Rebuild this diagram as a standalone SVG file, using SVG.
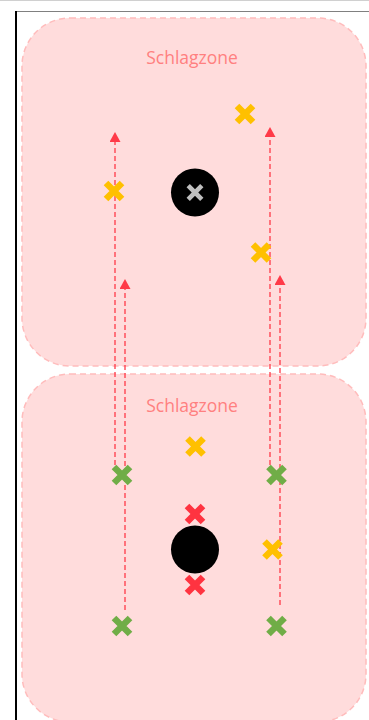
<svg xmlns="http://www.w3.org/2000/svg" width="369" height="720" viewBox="0 0 369 720">
<defs>
<style>
.zone{fill:#ffdcdc;stroke:#ffbcbc;stroke-width:1.5;stroke-dasharray:6 4}
.lbl{font-family:"Open Sans","Noto Sans",sans-serif;font-size:17.5px;fill:#ff8080;text-anchor:middle}
.ball{fill:#000}
.x{stroke-width:6.5;stroke-linecap:butt;fill:none}
.y{stroke:#ffc000}.g{stroke:#70ad47}.r{stroke:#ff3340}.w{stroke:#c0c0c0;stroke-width:5.5}
.run{stroke:#ff3a48;stroke-width:1.3;stroke-dasharray:5 3;fill:none}
</style>
<marker id="ah" viewBox="0 0 10 11" refX="0" refY="5.5" markerWidth="10" markerHeight="11" markerUnits="userSpaceOnUse" orient="auto">
<path d="M0,0 L10,5.5 L0,11 Z" fill="#ff3a48"/>
</marker>
<g id="xs"><path d="M-8,-8 L8,8 M-8,8 L8,-8"/></g>
</defs>
<g id="frame">
<line x1="0" y1="0.5" x2="369" y2="0.5" stroke="#d0d0d0" stroke-width="1"/>
<line x1="15" y1="11.5" x2="369" y2="11.5" stroke="#808080" stroke-width="1"/>
<line x1="16" y1="11" x2="16" y2="720" stroke="#000" stroke-width="2"/>
</g>
<g id="zone1">
<rect class="zone" x="22" y="18" width="344" height="348" rx="48" ry="48"/>
<text class="lbl" x="192" y="64">Schlagzone</text>
</g>
<g id="zone2">
<rect class="zone" x="22" y="374" width="344" height="348" rx="48" ry="48"/>
<text class="lbl" x="192" y="412">Schlagzone</text>
</g>
<g id="connectors">
<line class="run" x1="115" y1="465" x2="115" y2="142" marker-end="url(#ah)"/>
<line class="run" x1="125" y1="610" x2="125" y2="289" marker-end="url(#ah)"/>
<line class="run" x1="270" y1="465" x2="270" y2="137" marker-end="url(#ah)"/>
<line class="run" x1="280" y1="605" x2="280" y2="285" marker-end="url(#ah)"/>
</g>
<g id="ball1"><circle class="ball" cx="195" cy="192.5" r="24"/><use href="#xs" class="x w" transform="translate(195 192.5) scale(0.85)"/></g>
<g id="ball2"><circle class="ball" cx="195" cy="549.5" r="24"/></g>
<g id="y1"><use href="#xs" class="x y" transform="translate(245 114)"/></g>
<g id="y2"><use href="#xs" class="x y" transform="translate(114 191)"/></g>
<g id="y3"><use href="#xs" class="x y" transform="translate(261 252.5)"/></g>
<g id="y4"><use href="#xs" class="x y" transform="translate(195.5 446.5)"/></g>
<g id="y5"><use href="#xs" class="x y" transform="translate(272.5 549.5)"/></g>
<g id="g1"><use href="#xs" class="x g" transform="translate(122 475)"/></g>
<g id="g2"><use href="#xs" class="x g" transform="translate(276.5 475)"/></g>
<g id="g3"><use href="#xs" class="x g" transform="translate(122 626)"/></g>
<g id="g4"><use href="#xs" class="x g" transform="translate(276.5 626)"/></g>
<g id="r1"><use href="#xs" class="x r" transform="translate(195 514)"/></g>
<g id="r2"><use href="#xs" class="x r" transform="translate(195 585)"/></g>
</svg>
